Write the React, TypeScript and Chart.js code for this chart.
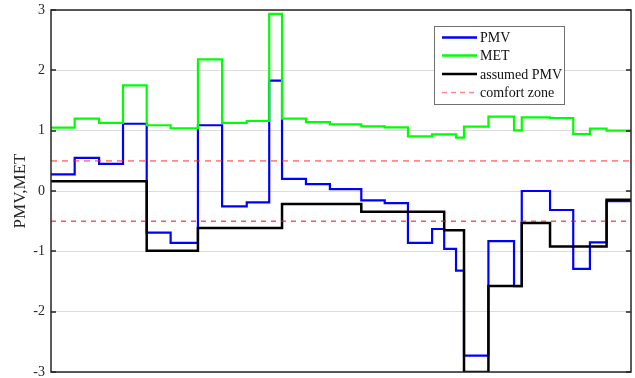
import React, { useEffect, useRef } from "react";
import { Chart, registerables } from "chart.js";

Chart.register(...registerables);

// Start time (min) of each step; the last entry closes the final step.
const timeMin = [
  0, 9.8, 19.9, 29.8, 39.6, 49.5, 60.8, 70.8, 81.0, 90.3, 95.6, 105.5, 115.4, 128.4,
  138.1, 147.7, 157.7, 162.7, 167.6, 170.9, 181.0, 191.6, 194.8, 206.5, 216.1, 223.0,
  229.9, 240,
];

// Measured PMV for each step
const pmv = [
  0.275, 0.55, 0.45, 1.115, -0.69, -0.86, 1.09, -0.255, -0.19, 1.83, 0.2, 0.115, 0.03,
  -0.155, -0.2, -0.86, -0.63, -0.96, -1.32, -2.73, -0.83, -1.575, 0.0, -0.315, -1.29,
  -0.85, -0.17,
];

// Metabolic rate for each step
const met = [
  1.05, 1.2, 1.13, 1.75, 1.09, 1.04, 2.18, 1.13, 1.16, 2.935, 1.2, 1.14, 1.105, 1.07,
  1.055, 0.905, 0.94, 0.94, 0.885, 1.066, 1.232, 1.005, 1.22, 1.21, 0.945, 1.033, 1.0,
];

// Assumed PMV for each step
const assumedPmv = [
  0.16, 0.16, 0.16, 0.16, -0.99, -0.99, -0.615, -0.615, -0.615, -0.615, -0.215, -0.215,
  -0.215, -0.345, -0.345, -0.345, -0.345, -0.65, -0.65, -3.0, -1.575, -1.575, -0.53,
  -0.92, -0.92, -0.92, -0.145,
];

// Comfort zone limits
const comfortUpper = 0.5;
const comfortLower = -0.5;

const yMin = -3;
const yMax = 3;
const yStep = 1;

const SERIF = "'Liberation Serif', 'Times New Roman', serif";
const AXIS_COLOR = "#262626";

const stepPoints = (values: number[]) =>
  timeMin.map((t, i) => ({ x: t, y: values[Math.min(i, values.length - 1)] }));

const flatLine = (v: number) => [
  { x: timeMin[0], y: v },
  { x: timeMin[timeMin.length - 1], y: v },
];

type LegendItem = { label: string; color: string; width: number; dash: number[] };

const legendItems: LegendItem[] = [
  { label: "PMV", color: "#0000ff", width: 2.5, dash: [] },
  { label: "MET", color: "#00ff00", width: 2.5, dash: [] },
  { label: "assumed PMV", color: "#000000", width: 2.5, dash: [] },
  { label: "comfort zone", color: "rgba(255,60,60,0.6)", width: 1.5, dash: [5, 4] },
];

// Box frame with inward ticks on both sides, plus the boxed legend
const framePlugin = {
  id: "frameAndLegend",
  afterDatasetsDraw(chart: any) {
    const { ctx, chartArea } = chart;
    const { left, right, top, bottom } = chartArea;
    const yScale = chart.scales.y;
    ctx.save();

    ctx.strokeStyle = AXIS_COLOR;
    ctx.lineWidth = 1.3;
    ctx.beginPath();
    for (let v = yMin; v <= yMax; v += yStep) {
      const py = Math.round(yScale.getPixelForValue(v));
      ctx.moveTo(left, py);
      ctx.lineTo(left + 5, py);
      ctx.moveTo(right, py);
      ctx.lineTo(right - 5, py);
    }
    ctx.stroke();
    ctx.lineWidth = 1.5;
    ctx.strokeRect(left, top, right - left, bottom - top);

    // legend
    const bx = 434.5;
    const by = 26.5;
    const bw = 130;
    const bh = 78;
    ctx.fillStyle = "#ffffff";
    ctx.fillRect(bx, by, bw, bh);
    ctx.strokeStyle = "#707070";
    ctx.lineWidth = 1;
    ctx.strokeRect(bx, by, bw, bh);
    const rows = [37.5, 55.5, 74, 92.5];
    ctx.font = `14px ${SERIF}`;
    ctx.textBaseline = "middle";
    ctx.textAlign = "left";
    legendItems.forEach((item, i) => {
      const y = rows[i];
      ctx.beginPath();
      ctx.setLineDash(item.dash);
      ctx.strokeStyle = item.color;
      ctx.lineWidth = item.width;
      ctx.moveTo(442, y);
      ctx.lineTo(477, y);
      ctx.stroke();
      ctx.setLineDash([]);
      ctx.fillStyle = "#111111";
      ctx.fillText(item.label, 480, y + 1);
    });
    ctx.restore();
  },
};

export default function App() {
  const canvasRef = useRef<HTMLCanvasElement>(null);

  useEffect(() => {
    const canvas = canvasRef.current;
    if (!canvas) return;
    const chart = new Chart(canvas, {
      type: "line",
      data: {
        datasets: [
          {
            label: "comfort zone",
            data: flatLine(comfortUpper),
            borderColor: "rgba(255,40,40,0.55)",
            borderWidth: 1.6,
            borderDash: [6, 5],
            order: 0,
          },
          {
            label: "comfort zone lower",
            data: flatLine(comfortLower),
            borderColor: "rgba(232,20,20,0.95)",
            borderWidth: 1.1,
            borderDash: [5, 5],
            order: 0,
          },
          {
            label: "assumed PMV",
            data: stepPoints(assumedPmv),
            borderColor: "#000000",
            borderWidth: 2.5,
            stepped: "before",
            order: 1,
          },
          {
            label: "MET",
            data: stepPoints(met),
            borderColor: "#00ff00",
            borderWidth: 2.2,
            stepped: "before",
            order: 2,
          },
          {
            label: "PMV",
            data: stepPoints(pmv),
            borderColor: "#0000ff",
            borderWidth: 2.2,
            stepped: "before",
            order: 3,
          },
        ],
      },
      options: {
        responsive: false,
        animation: false,
        parsing: false as any,
        layout: { padding: { top: 10, right: 4, bottom: 6, left: 0 } },
        elements: { point: { radius: 0 }, line: { tension: 0, fill: false } },
        plugins: {
          legend: { display: false },
          tooltip: { enabled: false },
        },
        scales: {
          x: {
            type: "linear",
            min: timeMin[0],
            max: timeMin[timeMin.length - 1],
            display: false,
          },
          y: {
            type: "linear",
            min: yMin,
            max: yMax,
            border: { display: false },
            grid: { color: "#dcdcdc", lineWidth: 1, drawTicks: false },
            ticks: {
              stepSize: yStep,
              padding: 6,
              color: AXIS_COLOR,
              font: { family: SERIF, size: 14 },
            },
            title: {
              display: true,
              text: "PMV,MET",
              color: AXIS_COLOR,
              font: { family: SERIF, size: 17 },
              padding: { top: 10, bottom: 0 },
            },
            afterFit: (scale: any) => {
              scale.width = 51;
              scale.paddingTop = 0;
              scale.paddingBottom = 0;
            },
          },
        },
      },
      plugins: [framePlugin],
    });
    return () => chart.destroy();
  }, []);

  return (
    <div style={{ position: "absolute", left: 0, top: 0, width: 635, height: 378, background: "#fff" }}>
      <canvas ref={canvasRef} width={635} height={378} style={{ display: "block" }} />
    </div>
  );
}
